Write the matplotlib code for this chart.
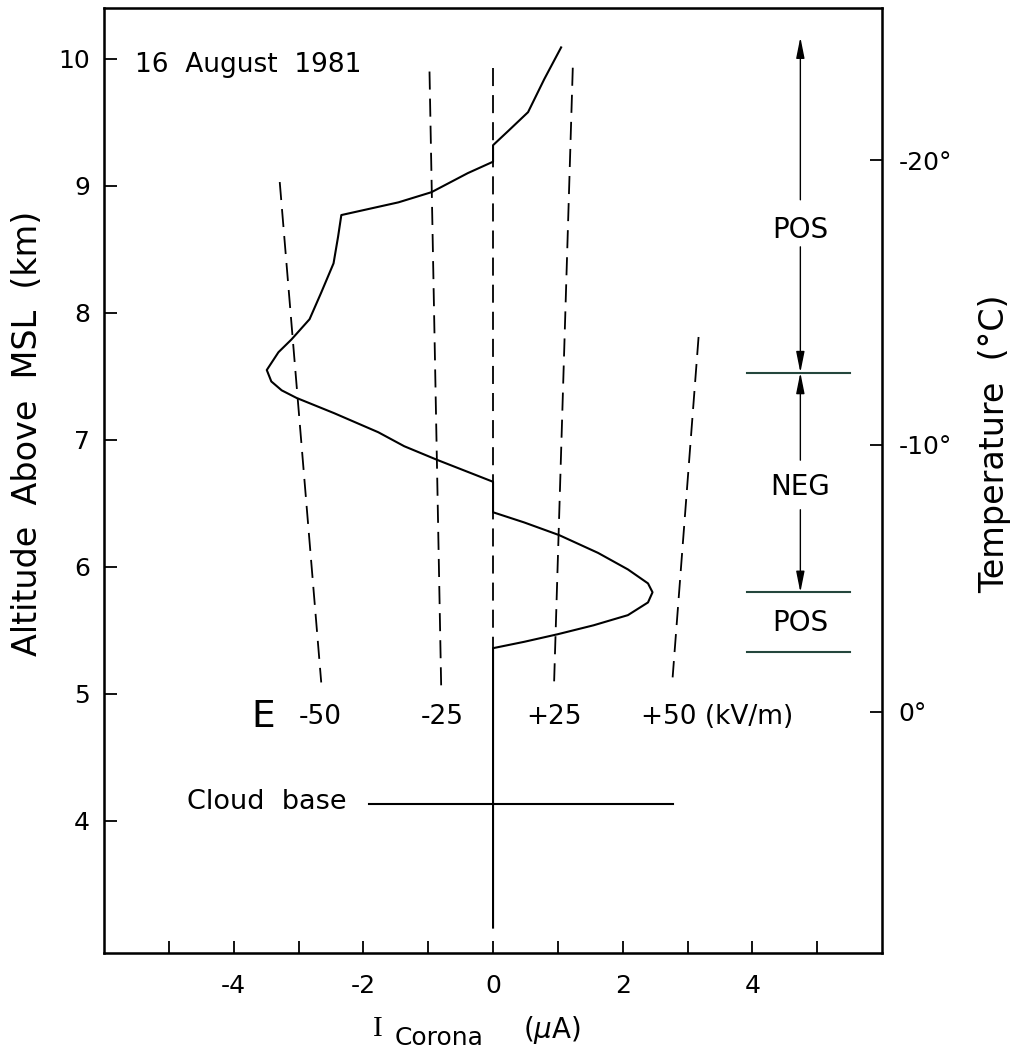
import matplotlib.pyplot as plt
import numpy as np

plt.rcParams['font.family'] = 'DejaVu Sans'
plt.rcParams['axes.unicode_minus'] = False

# corona current profile (uA) against altitude (km)
i_corona = [1.05, 0.79, 0.54, 0.23, 0.0, 0.0, -0.39, -0.95, -1.46, -2.34,
            -2.39, -2.46, -2.65, -2.83, -3.11, -3.31, -3.49, -3.42, -3.26, -3.03,
            -2.45, -1.77, -1.37, -0.85, -0.45, 0.0, 0.0, 0.48, 1.02, 1.62,
            2.08, 2.39, 2.46, 2.39, 2.08, 1.55, 1.00, 0.48, 0.0, 0.0]
alt_km = [10.09, 9.84, 9.58, 9.43, 9.32, 9.19, 9.10, 8.95, 8.87, 8.77,
          8.60, 8.39, 8.16, 7.95, 7.79, 7.69, 7.55, 7.46, 7.39, 7.33,
          7.21, 7.06, 6.95, 6.84, 6.76, 6.67, 6.43, 6.35, 6.25, 6.11,
          5.98, 5.87, 5.80, 5.72, 5.62, 5.54, 5.47, 5.41, 5.36, 3.16]

# field isolines E (kV/m), top and bottom ends
e_labels = ["-50", "-25", "", "+25", "+50 (kV/m)"]
e_top_x = [-3.29, -0.98, 0.0, 1.23, 3.17]
e_top_alt = [9.03, 9.90, 9.93, 9.93, 7.81]
e_bot_x = [-2.65, -0.80, 0.0, 0.94, 2.77]
e_bot_alt = [5.09, 5.06, 5.06, 5.06, 5.13]
e_label_x = [-2.66, -0.78, 0.0, 0.94, 2.28]

# charge layers
layer_bounds = [7.53, 5.80, 5.33]
layer_names = ["POS", "NEG", "POS"]
layer_label_alt = [8.65, 6.63, 5.56]
pos_top = 10.17

cloud_base = 4.13
cloud_x = [-1.91, 2.77]

# temperature scale on the right
temp_alt = [4.86, 6.96, 9.20]
temp_labels = ["0°", "-10°", "-20°"]

fig = plt.figure(figsize=(10.17, 10.57), dpi=100)
ax = fig.add_axes([0.1023, 0.0984, 0.765, 0.894])
ax.set_xlim(-6, 6)
ax.set_ylim(2.96, 10.4)

ax.plot(i_corona, alt_km, color='k', lw=1.5)

for tx, ta, bx, ba in zip(e_top_x, e_top_alt, e_bot_x, e_bot_alt):
    ax.plot([tx, bx], [ta, ba], color='k', lw=1.3, dashes=(10, 5))

ax.text(-3.54, 4.82, "E", fontsize=27, ha='center', va='center')
for lx, l in zip(e_label_x, e_labels):
    if l == "":
        continue
    ha = 'left' if "kV" in l else 'center'
    ax.text(lx, 4.82, l, fontsize=19, ha=ha, va='center')

ax.plot(cloud_x, [cloud_base, cloud_base], color='k', lw=1.5)
ax.text(-2.26, cloud_base + 0.02, "Cloud  base", fontsize=19.5, ha='right', va='center')

ax.text(-5.52, 9.95, "16  August  1981", fontsize=19, ha='left', va='center')

# charge layer markers
xa = 4.74
for b in layer_bounds:
    ax.plot([3.92, 5.51], [b, b], color='#24473d', lw=1.5)
for name, a in zip(layer_names, layer_label_alt):
    ax.text(xa, a, name, fontsize=20, ha='center', va='center')

arrows = [(8.89, pos_top), (8.52, layer_bounds[0]),
          (6.84, layer_bounds[0]), (6.45, layer_bounds[1])]
for start, end in arrows:
    ax.annotate("", xy=(xa, end), xytext=(xa, start),
                arrowprops=dict(arrowstyle='-|>,head_length=0.9,head_width=0.18',
                                color='k', lw=1.0, shrinkA=0, shrinkB=0,
                                mutation_scale=14))

ax.set_xticks([-4, -2, 0, 2, 4])
ax.set_xticks([-5, -3, -1, 1, 3, 5], minor=True)
ax.set_yticks([4, 5, 6, 7, 8, 9, 10])
ax.tick_params(axis='both', which='both', direction='in', length=9, width=1.3,
               labelsize=18)
ax.tick_params(axis='x', which='both', pad=15)
ax.tick_params(axis='y', pad=10)
for s in ax.spines.values():
    s.set_linewidth(1.8)

ax2 = ax.twinx()
ax2.set_ylim(ax.get_ylim())
ax2.set_yticks(temp_alt, temp_labels)
ax2.tick_params(axis='y', direction='in', length=9, width=1.3, labelsize=18, pad=12)

fig.text(28 / 1017, 1 - 433 / 1057, "Altitude  Above  MSL  (km)", fontsize=24,
         rotation=90, ha='center', va='center')
fig.text(995 / 1017, 1 - 444 / 1057, "Temperature  (°C)", fontsize=24,
         rotation=90, ha='center', va='center')

# x label: I with subscript, then unit
fig.text(373 / 1017, 1 - 1036 / 1057, "I", family='Liberation Serif', fontsize=21,
         ha='left', va='baseline')
fig.text(395 / 1017, 1 - 1045 / 1057, "Corona", fontsize=18, ha='left', va='baseline')
fig.text(523 / 1017, 1 - 1038 / 1057, r"($\mathit{\mu}$A)", fontsize=20,
         ha='left', va='baseline')

fig.savefig("out.png", dpi=100)
